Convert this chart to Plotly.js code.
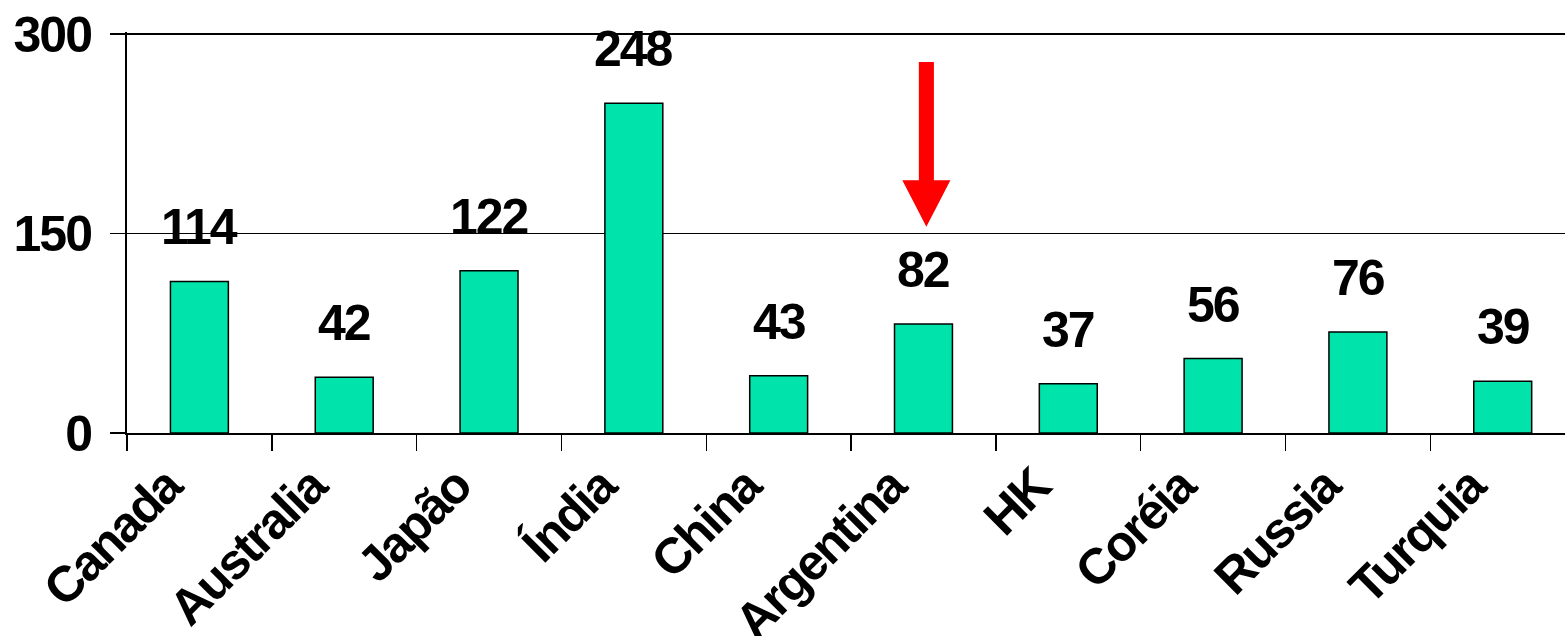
<!DOCTYPE html>
<html>
<head>
<meta charset="utf-8">
<script src="https://cdn.plot.ly/plotly-3.0.1.min.js"></script>
<style>
html,body{margin:0;padding:0;background:#fff;overflow:hidden;}
#chart{width:1565px;height:636px;}
.xtick text{letter-spacing:-2px;}
.ytick text{letter-spacing:-2px;}
.annotation-text{letter-spacing:-2px;}
</style>
</head>
<body>
<div id="chart"></div>
<script>
var categories = ["Canada","Australia","Japão","Índia","China","Argentina","HK","Coréia","Russia","Turquia"];
var values = [114, 42, 122, 248, 43, 82, 37, 56, 76, 39];
var yTicks = [0, 150, 300];
var highlight = "Argentina";

var FONT = "Liberation Sans, Arial, sans-serif";
var barColor = "#00E3AA";

var hi = categories.indexOf(highlight);
// arrow geometry relative to highlighted category (in axis units)
var ax = hi + 0.02;
var arrowPath = "M " + (ax-0.052) + " 279 L " + (ax+0.052) + " 279 L " + (ax+0.052) + " 190 L " +
  (ax+0.166) + " 190 L " + ax + " 155 L " + (ax-0.166) + " 190 L " + (ax-0.052) + " 190 Z";

var annotations = categories.map(function(c, i){
  return {x: c, y: values[i], xref:"x", yref:"y", text: String(values[i]), showarrow:false,
    yanchor:"bottom", yshift: 24, font:{family:FONT, size:50, color:"#000", weight:"bold"}};
});

var trace = {
  type: "bar", x: categories, y: values, width: 0.4,
  marker: {color: barColor, line: {color: "#000", width: 1.5}},
  hoverinfo: "none"
};

var layout = {
  width: 1565, height: 636,
  margin: {l: 127, r: 0, t: 32, b: 203, pad: 0},
  paper_bgcolor: "#fff", plot_bgcolor: "#fff",
  showlegend: false,
  bargap: 0.6,
  xaxis: {
    type: "category", range: [-0.5, 9.43],
    showline: true, linecolor: "#000", linewidth: 2,
    ticks: "outside", tickson: "boundaries", ticklen: 16, tickwidth: 1.5, tickcolor: "#000",
    showgrid: false, zeroline: false,
    tickangle: -45,
    ticklabelshift: -33,
    ticklabelstandoff: 2,
    tickfont: {family: FONT, size: 50, color: "#000", weight: "bold"}
  },
  yaxis: {
    range: [0, 301.5], tickvals: yTicks, ticktext: yTicks.map(String),
    showline: true, linecolor: "#000", linewidth: 2,
    ticks: "outside", ticklen: 15, tickwidth: 1.5, tickcolor: "#000",
    showgrid: true, gridcolor: "#000", gridwidth: 1.5,
    zeroline: false,
    ticklabelstandoff: 9,
    tickfont: {family: FONT, size: 50, color: "#000", weight: "bold"}
  },
  annotations: annotations,
  shapes: [{type: "path", xref: "x", yref: "y", path: arrowPath,
    fillcolor: "#FF0000", line: {width: 0}}]
};

Plotly.newPlot("chart", [trace], layout, {staticPlot: true, displayModeBar: false});
</script>
</body>
</html>
